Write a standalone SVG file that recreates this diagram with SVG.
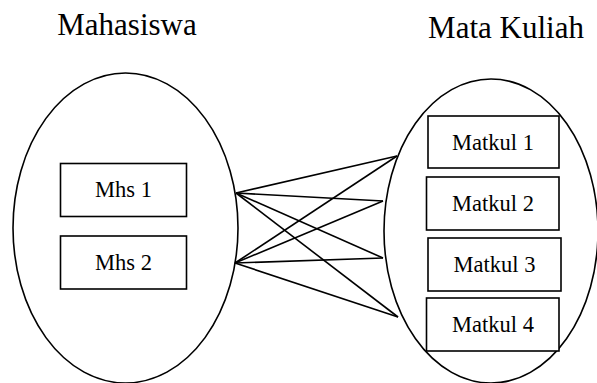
<svg xmlns="http://www.w3.org/2000/svg" width="597" height="383" viewBox="0 0 597 383">
<style>
.e{fill:none;stroke:#000;stroke-width:1.6}
.b{fill:#fff;stroke:#000;stroke-width:1.6}
.t{font-family:"Liberation Serif","Times New Roman",serif;fill:#000;text-anchor:middle}
.h{font-size:31px}
.n{font-size:22.5px}
.c line{stroke:#000;stroke-width:1.6}
</style>
<rect width="597" height="383" fill="#fff"/>
<text class="t h" x="127" y="35">Mahasiswa</text>
<text class="t h" x="506" y="38">Mata Kuliah</text>
<g id="mahasiswa"><ellipse class="e" cx="125.5" cy="228" rx="112.5" ry="155"/></g>
<g id="matakuliah"><ellipse class="e" cx="491" cy="231" rx="107" ry="152"/></g>
<g class="c" id="connectors">
<line x1="236" y1="193" x2="397" y2="156"/>
<line x1="236" y1="193" x2="383" y2="201"/>
<line x1="236" y1="193" x2="383" y2="258"/>
<line x1="236" y1="193" x2="398" y2="317"/>
<line x1="235" y1="263" x2="397" y2="156"/>
<line x1="235" y1="263" x2="383" y2="201"/>
<line x1="235" y1="263" x2="383" y2="258"/>
<line x1="235" y1="263" x2="398" y2="317"/>
</g>
<g id="mhs1"><rect class="b" x="60.5" y="163.5" width="126" height="53"/><text class="t n" x="123.5" y="197">Mhs 1</text></g>
<g id="mhs2"><rect class="b" x="60.5" y="236" width="126" height="53"/><text class="t n" x="123.5" y="270">Mhs 2</text></g>
<g id="matkul1"><rect class="b" x="428" y="116" width="131" height="52"/><text class="t n" x="493" y="150">Matkul 1</text></g>
<g id="matkul2"><rect class="b" x="426.5" y="177" width="132.5" height="53"/><text class="t n" x="493" y="211">Matkul 2</text></g>
<g id="matkul3"><rect class="b" x="428" y="238" width="133" height="53"/><text class="t n" x="494.5" y="272">Matkul 3</text></g>
<g id="matkul4"><rect class="b" x="426.5" y="298" width="132.5" height="53"/><text class="t n" x="493" y="332">Matkul 4</text></g>
</svg>
